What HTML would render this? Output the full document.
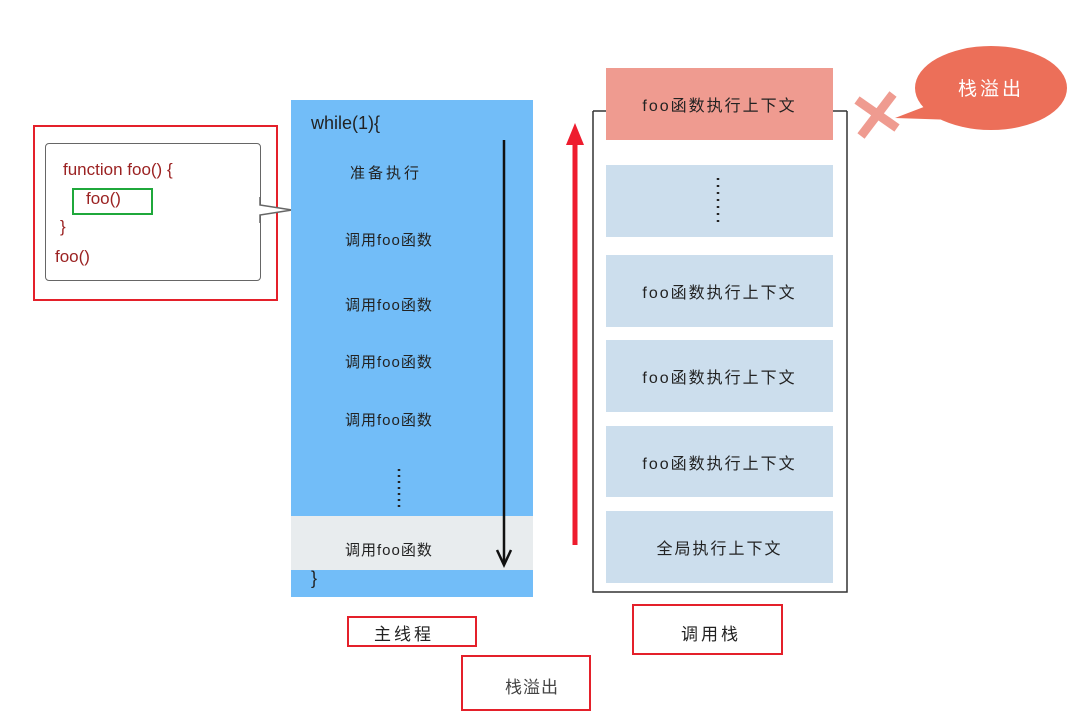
<!DOCTYPE html>
<html><head><meta charset="utf-8"><style>
body{margin:0;width:1090px;height:726px;background:#fff;position:relative;overflow:hidden;font-family:"Liberation Sans","Noto Sans CJK SC",sans-serif;}
.a{position:absolute;box-sizing:border-box;}
.t{position:absolute;font-size:15px;color:#222;white-space:nowrap;letter-spacing:1px;}
.sb{background:#ccdeed;display:flex;align-items:center;justify-content:center;font-size:16px;color:#222;letter-spacing:2px;}
</style></head><body>
<div class="a" style="left:33px;top:125px;width:245px;height:176px;border:2px solid #e4202a"></div>
<div class="a" style="left:45px;top:143px;width:216px;height:138px;border:1.5px solid #666;border-radius:4px;background:#fff"></div>
<svg class="a" style="left:255px;top:195px" width="40" height="30"><polyline points="5,2 5,10 37,15 5,20 5,28" fill="#fff" stroke="#666" stroke-width="1.5"/><rect x="0" y="11" width="6" height="8" fill="#fff"/></svg>
<div class="t" style="left:63px;top:160px;color:#9b2222;font-size:17px;letter-spacing:0">function foo() {</div>
<div class="a" style="left:72px;top:188px;width:81px;height:27px;border:2px solid #1fa83b"></div>
<div class="t" style="left:86px;top:189px;color:#9b2222;font-size:17px;letter-spacing:0">foo()</div>
<div class="t" style="left:60px;top:217px;color:#9b2222;font-size:17px">}</div>
<div class="t" style="left:55px;top:247px;color:#9b2222;font-size:17px;letter-spacing:0">foo()</div>

<div class="a" style="left:291px;top:100px;width:242px;height:497px;background:#72bdf8"></div>
<div class="a" style="left:291px;top:516px;width:242px;height:54px;background:#e8ecee"></div>
<div class="t" style="left:311px;top:113px;font-size:18px;letter-spacing:0">while(1){</div>
<div class="t" style="left:350px;top:162px;letter-spacing:3px">准备执行</div>
<div class="t" style="left:345px;top:229px">调用foo函数</div>
<div class="t" style="left:345px;top:294px">调用foo函数</div>
<div class="t" style="left:345px;top:351px">调用foo函数</div>
<div class="t" style="left:345px;top:409px">调用foo函数</div>
<div class="t" style="left:345px;top:539px">调用foo函数</div>
<div class="t" style="left:311px;top:568px;font-size:18px">}</div>
<svg class="a" style="left:380px;top:465px" width="40" height="50"><line x1="19" y1="4" x2="19" y2="46" stroke="#222" stroke-width="2.5" stroke-dasharray="2,4"/></svg>
<svg class="a" style="left:490px;top:135px" width="30" height="440"><line x1="14" y1="5" x2="14" y2="428" stroke="#111" stroke-width="2.5"/><polyline points="7,415 14,430 21,415" fill="none" stroke="#111" stroke-width="2.5"/></svg>

<svg class="a" style="left:560px;top:115px" width="30" height="440"><line x1="15" y1="430" x2="15" y2="15" stroke="#ee1c2e" stroke-width="5"/><polygon points="6,30 15,8 24,30" fill="#ee1c2e"/></svg>

<svg class="a" style="left:590px;top:105px" width="262" height="492"><polyline points="3,6 3,487 257,487 257,6" fill="none" stroke="#333" stroke-width="1.5"/><line x1="3" y1="6" x2="20" y2="6" stroke="#333" stroke-width="1.5"/><line x1="240" y1="6" x2="257" y2="6" stroke="#333" stroke-width="1.5"/></svg>
<div class="a sb" style="left:606px;top:68px;width:227px;height:72px;background:#ef9b90">foo函数执行上下文</div>
<div class="a sb" style="left:606px;top:165px;width:227px;height:72px"></div>
<svg class="a" style="left:706px;top:175px" width="30" height="55"><line x1="12" y1="3" x2="12" y2="50" stroke="#222" stroke-width="2.5" stroke-dasharray="2,5"/></svg>
<div class="a sb" style="left:606px;top:255px;width:227px;height:72px">foo函数执行上下文</div>
<div class="a sb" style="left:606px;top:340px;width:227px;height:72px">foo函数执行上下文</div>
<div class="a sb" style="left:606px;top:426px;width:227px;height:71px">foo函数执行上下文</div>
<div class="a sb" style="left:606px;top:511px;width:227px;height:72px">全局执行上下文</div>

<svg class="a" style="left:845px;top:40px" width="230" height="110"><path d="M50,78 L110,55 L110,80 Z" fill="#ec6f59"/><ellipse cx="146" cy="48" rx="76" ry="42" fill="#ec6f59"/><text x="146" y="55" text-anchor="middle" font-size="19" fill="#fff" letter-spacing="3" font-family="Noto Sans CJK SC,sans-serif">栈溢出</text><line x1="12" y1="60" x2="52" y2="88" stroke="#ef9b90" stroke-width="9"/><line x1="48" y1="54" x2="16" y2="96" stroke="#ef9b90" stroke-width="9"/></svg>

<div class="a" style="left:347px;top:616px;width:130px;height:31px;border:2px solid #e4202a"></div>
<div class="t" style="left:374px;top:620px;font-size:17px;letter-spacing:3px">主线程</div>
<div class="a" style="left:632px;top:604px;width:151px;height:51px;border:2px solid #e4202a"></div>
<div class="t" style="left:681px;top:620px;font-size:17px;letter-spacing:3px">调用栈</div>
<div class="a" style="left:461px;top:655px;width:130px;height:56px;border:2px solid #e4202a"></div>
<div class="t" style="left:505px;top:673px;font-size:17px;color:#444">栈溢出</div>
</body></html>
